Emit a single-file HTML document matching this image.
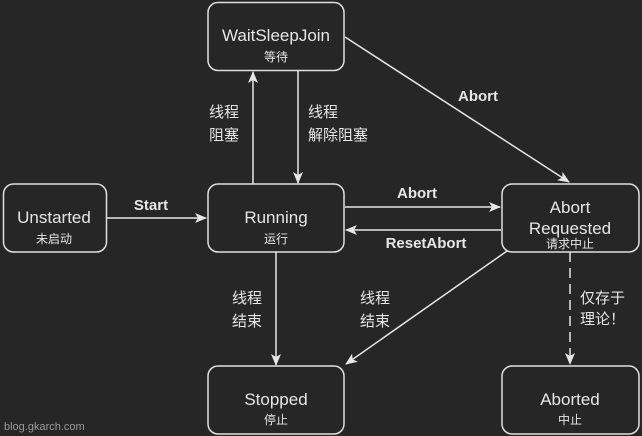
<!DOCTYPE html>
<html><head><meta charset="utf-8"><style>
html,body{margin:0;padding:0;background:#262626;}
svg{display:block}
text{font-family:"Liberation Sans","Noto Sans CJK SC",sans-serif;fill:#e6e6e6;}
.b{font-weight:bold;font-size:15px}
.n{font-size:17px}
.s{font-size:12px}
.l{font-size:15px}
</style></head><body>
<svg width="642" height="436" viewBox="0 0 642 436">
<defs><marker id="a" markerWidth="12" markerHeight="10" refX="11" refY="5" orient="auto" markerUnits="userSpaceOnUse"><path d="M0,0 L12,5 L0,10 L3,5 Z" fill="#e6e6e6"/></marker></defs>
<g fill="#262626" stroke="#e0e0e0" stroke-width="1.5">
<rect x="208" y="2.5" width="136" height="68" rx="10"/>
<rect x="3.5" y="184" width="103" height="68" rx="10"/>
<rect x="208" y="184" width="136" height="68" rx="10"/>
<rect x="502" y="184" width="137" height="68" rx="10"/>
<rect x="208" y="366" width="136" height="68" rx="10"/>
<rect x="502" y="366" width="137" height="68" rx="10"/>
</g>
<g stroke="#e6e6e6" stroke-width="1.5" fill="none" marker-end="url(#a)">
<line x1="107" y1="218" x2="206" y2="218"/>
<line x1="253" y1="184" x2="253" y2="72"/>
<line x1="298" y1="71" x2="298" y2="183"/>
<line x1="345" y1="207" x2="500" y2="207"/>
<line x1="501" y1="230" x2="346" y2="230"/>
<line x1="345" y1="37" x2="569" y2="182"/>
<line x1="276" y1="252" x2="276" y2="365"/>
<line x1="507" y1="251" x2="346" y2="364"/>
<line x1="570" y1="252" x2="570" y2="364" stroke-dasharray="10,6"/>
</g>
<text class="n" x="276" y="41" text-anchor="middle">WaitSleepJoin</text>
<text class="s" x="276" y="61" text-anchor="middle">等待</text>
<text class="n" x="54" y="223" text-anchor="middle">Unstarted</text>
<text class="s" x="54" y="243" text-anchor="middle">未启动</text>
<text class="n" x="276" y="223" text-anchor="middle">Running</text>
<text class="s" x="276" y="243" text-anchor="middle">运行</text>
<text class="n" x="570" y="213" text-anchor="middle">Abort</text>
<text class="n" x="570" y="234" text-anchor="middle">Requested</text>
<text class="s" x="570" y="248" text-anchor="middle">请求中止</text>
<text class="n" x="276" y="405" text-anchor="middle">Stopped</text>
<text class="s" x="276" y="424" text-anchor="middle">停止</text>
<text class="n" x="570" y="405" text-anchor="middle">Aborted</text>
<text class="s" x="570" y="424" text-anchor="middle">中止</text>
<text class="b" x="151" y="210" text-anchor="middle">Start</text>
<text class="b" x="417" y="198" text-anchor="middle">Abort</text>
<text class="b" x="426" y="248" text-anchor="middle">ResetAbort</text>
<text class="b" x="478" y="101" text-anchor="middle">Abort</text>
<text class="l" x="209" y="117">线程</text>
<text class="l" x="209" y="140">阻塞</text>
<text class="l" x="308" y="117">线程</text>
<text class="l" x="308" y="140">解除阻塞</text>
<text class="l" x="232" y="303">线程</text>
<text class="l" x="232" y="326">结束</text>
<text class="l" x="360" y="303">线程</text>
<text class="l" x="360" y="326">结束</text>
<text class="l" x="580" y="303">仅存于</text>
<text class="l" x="580" y="324">理论！</text>
<text x="4" y="430" style="font-size:11px;fill:#9a9a9a">blog.gkarch.com</text>
</svg>
</body></html>
